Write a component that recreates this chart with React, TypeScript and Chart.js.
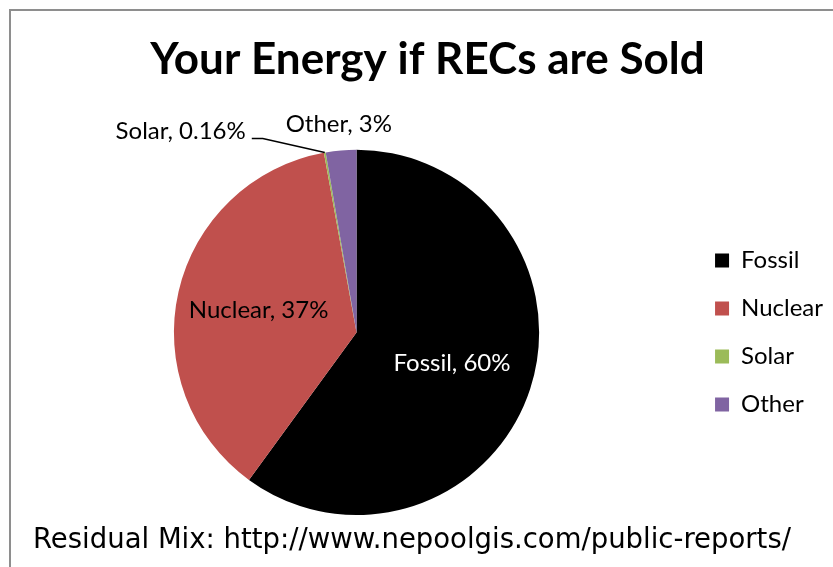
import { useEffect, useRef } from 'react';
import { Chart, registerables } from 'chart.js';

Chart.register(...registerables);

const categories = ['Fossil', 'Nuclear', 'Solar', 'Other'];
const shares = [60.0, 37.1, 0.16, 2.7];
const colors = ['#000000', '#C0504D', '#9BBB59', '#8064A2'];
const labelModes = ['inside', 'inside', 'leader', 'outside'];
const labelColors = ['#ffffff', '#000000', '#000000', '#000000'];
const titleText = 'Your Energy if RECs are Sold';
const footerText = 'Residual Mix: http://www.nepoolgis.com/public-reports/';

const sliceLabels = {
  id: 'sliceLabels',
  afterDatasetsDraw(chart: any) {
    const ctx = chart.ctx;
    const meta = chart.getDatasetMeta(0);
    const data = chart.data.datasets[0].data as number[];
    const total = data.reduce((a: number, b: number) => a + b, 0);
    ctx.save();
    ctx.font = '24px Lato';
    meta.data.forEach((el: any, i: number) => {
      const p = el.getProps(['x', 'y', 'startAngle', 'endAngle', 'outerRadius'], true);
      const mid = (p.startAngle + p.endAngle) / 2;
      const c = Math.cos(mid);
      const s = Math.sin(mid);
      const R = p.outerRadius;
      const pct = (data[i] / total) * 100;
      const txt = `${categories[i]}, ${pct < 1 ? pct.toFixed(2) : Math.round(pct)}%`;
      ctx.fillStyle = labelColors[i];
      const mode = labelModes[i];
      if (mode === 'inside') {
        ctx.textAlign = 'center';
        ctx.textBaseline = 'middle';
        ctx.fillText(txt, p.x + c * R * 0.55, p.y + s * R * 0.55);
      } else if (mode === 'outside') {
        ctx.textAlign = 'center';
        ctx.textBaseline = 'middle';
        ctx.fillText(txt, p.x + c * (R + 26), p.y + s * (R + 26));
      } else {
        const ex = p.x + c * R;
        const ey = p.y + s * R;
        const bx = ex - 62;
        const by = ey - 14;
        ctx.strokeStyle = '#000';
        ctx.lineWidth = 1.5;
        ctx.beginPath();
        ctx.moveTo(ex, ey);
        ctx.lineTo(bx, by);
        ctx.lineTo(bx - 11, by);
        ctx.stroke();
        ctx.textAlign = 'right';
        ctx.textBaseline = 'alphabetic';
        ctx.fillText(txt, bx - 17, by);
      }
    });
    ctx.restore();
  },
  afterDraw(chart: any) {
    const ctx = chart.ctx;
    ctx.save();
    ctx.font = '27.5px "DejaVu Sans"';
    ctx.fillStyle = '#000';
    ctx.textAlign = 'left';
    ctx.textBaseline = 'alphabetic';
    ctx.fillText(footerText, 33, 548);
    ctx.restore();
  },
};

export default function App() {
  const ref = useRef<HTMLCanvasElement | null>(null);
  useEffect(() => {
    if (!ref.current) return;
    const chart = new Chart(ref.current, {
      type: 'pie',
      data: {
        labels: categories,
        datasets: [
          {
            data: shares,
            backgroundColor: colors,
            borderWidth: 0,
          },
        ],
      },
      options: {
        responsive: false,
        animation: false,
        layout: { padding: { left: 22, right: 0, top: 10, bottom: 52 } },
        plugins: {
          title: {
            display: true,
            text: titleText,
            color: '#000',
            font: { family: 'Lato', size: 44, weight: 'bold' },
            padding: { top: 23, bottom: 64 },
          },
          legend: {
            position: 'right',
            fullSize: false,
            labels: {
              boxWidth: 14,
              boxHeight: 14,
              padding: 24,
              color: '#000',
              font: { family: 'Lato', size: 24 },
            },
          },
          tooltip: { enabled: false },
        },
      },
      plugins: [sliceLabels],
    });
    return () => chart.destroy();
  }, []);
  return (
    <div style={{ position: 'fixed', left: 0, top: 0, width: 833, height: 567, overflow: 'hidden', background: '#fff' }}>
      <div
        style={{
          position: 'absolute',
          left: 9,
          top: 9,
          width: 900,
          height: 700,
          border: '2px solid #8e8e8e',
          boxSizing: 'border-box',
        }}
      />
      <canvas ref={ref} width={833} height={567} style={{ position: 'absolute', left: 0, top: 0, display: 'block' }} />
    </div>
  );
}
